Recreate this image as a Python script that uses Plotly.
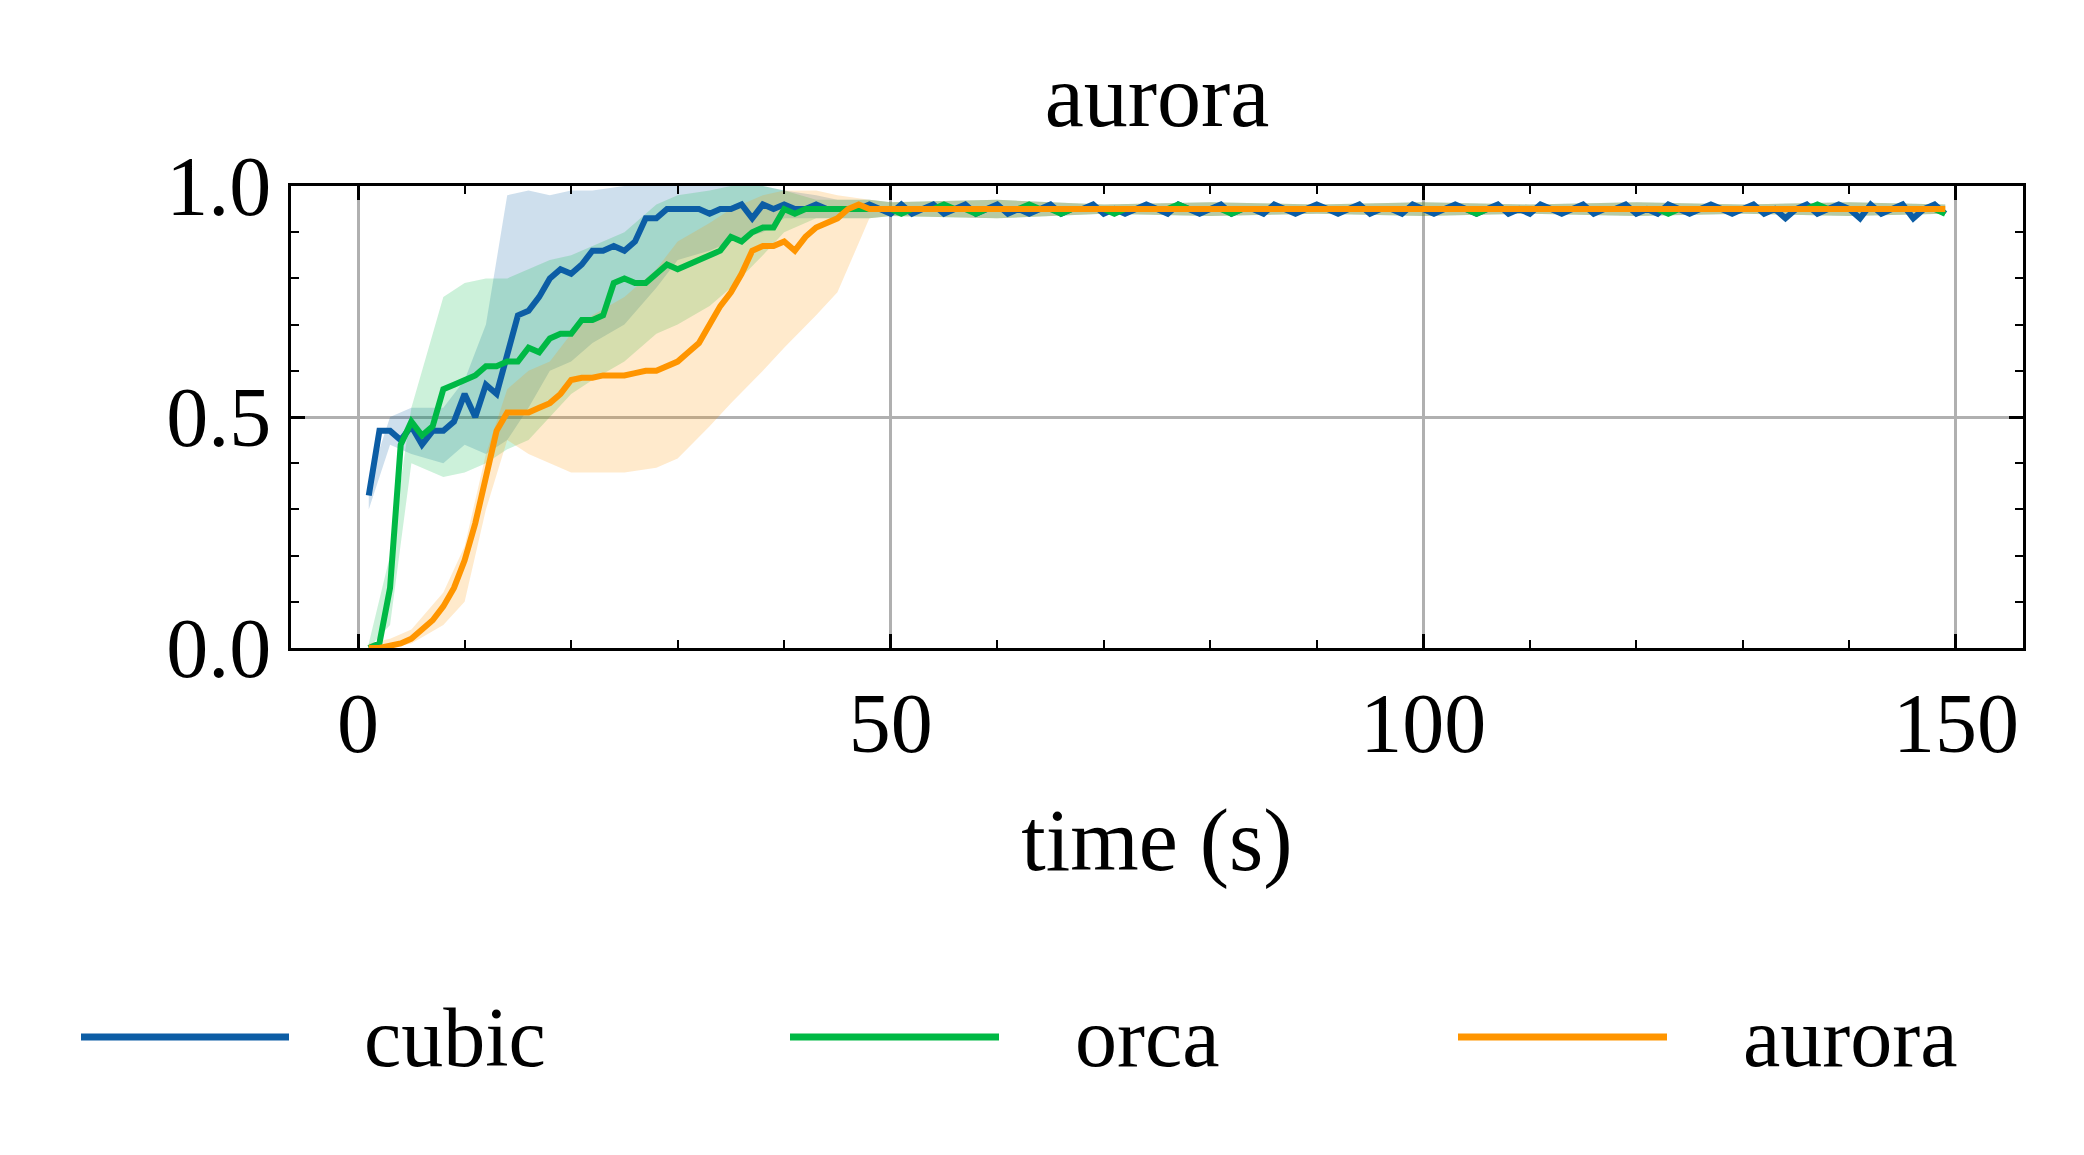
import plotly.graph_objects as go

# time axis (s)
time_s = list(range(1, 150))

cubic_head = [0.33, 0.47, 0.47, 0.45, 0.48, 0.44, 0.47, 0.47, 0.49, 0.55,
              0.50, 0.57, 0.55, 0.63, 0.72, 0.73, 0.76, 0.80, 0.82, 0.81,
              0.83, 0.86, 0.86, 0.87, 0.86, 0.88, 0.93, 0.93, 0.95, 0.95,
              0.95, 0.95, 0.94, 0.95, 0.95, 0.96, 0.93, 0.96, 0.95, 0.96,
              0.95, 0.95, 0.96, 0.95, 0.95, 0.95, 0.95, 0.96]
cubic_tail = [0.95, 0.94, 0.96, 0.94, 0.95, 0.96, 0.94, 0.95, 0.96, 0.94,
              0.95, 0.96, 0.94, 0.95, 0.94, 0.95, 0.96, 0.94, 0.95, 0.95,
              0.96, 0.94, 0.95, 0.94, 0.95, 0.96, 0.95, 0.94, 0.96, 0.95,
              0.94, 0.95, 0.96, 0.94, 0.95, 0.95, 0.94, 0.96, 0.95, 0.94,
              0.95, 0.96, 0.95, 0.94, 0.95, 0.96, 0.94, 0.95, 0.95, 0.94,
              0.96, 0.95, 0.94, 0.95, 0.96, 0.95, 0.94, 0.95, 0.96, 0.94,
              0.95, 0.94, 0.96, 0.95, 0.94, 0.95, 0.96, 0.94, 0.95, 0.95,
              0.96, 0.94, 0.95, 0.94, 0.96, 0.95, 0.94, 0.95, 0.96, 0.95,
              0.94, 0.95, 0.96, 0.94, 0.95, 0.93, 0.95, 0.96, 0.94, 0.95,
              0.96, 0.95, 0.93, 0.96, 0.94, 0.95, 0.96, 0.93, 0.95, 0.96,
              0.94]
orca_head = [0.0, 0.01, 0.13, 0.44, 0.49, 0.46, 0.48, 0.56, 0.57, 0.58,
             0.59, 0.61, 0.61, 0.62, 0.62, 0.65, 0.64, 0.67, 0.68, 0.68,
             0.71, 0.71, 0.72, 0.79, 0.80, 0.79, 0.79, 0.81, 0.83, 0.82,
             0.83, 0.84, 0.85, 0.86, 0.89, 0.88, 0.90, 0.91, 0.91, 0.95,
             0.94, 0.95, 0.95, 0.95, 0.95, 0.95, 0.95, 0.95]
orca_tail = [0.95, 0.95, 0.94, 0.95, 0.95, 0.95, 0.96, 0.95, 0.95, 0.94,
             0.95, 0.95, 0.95, 0.95, 0.96, 0.95, 0.95, 0.94, 0.95, 0.95,
             0.95, 0.95, 0.94, 0.95, 0.95, 0.95, 0.95, 0.95, 0.96, 0.95,
             0.95, 0.95, 0.95, 0.94, 0.95, 0.95, 0.95, 0.95, 0.95, 0.95,
             0.95, 0.95, 0.95, 0.95, 0.95, 0.95, 0.95, 0.95, 0.95, 0.95,
             0.95, 0.95, 0.95, 0.95, 0.95, 0.95, 0.94, 0.95, 0.95, 0.95,
             0.95, 0.95, 0.95, 0.95, 0.95, 0.95, 0.95, 0.95, 0.95, 0.95,
             0.95, 0.95, 0.95, 0.95, 0.94, 0.95, 0.95, 0.95, 0.95, 0.95,
             0.95, 0.95, 0.95, 0.95, 0.95, 0.95, 0.95, 0.95, 0.96, 0.95,
             0.95, 0.95, 0.95, 0.95, 0.95, 0.95, 0.95, 0.95, 0.95, 0.95,
             0.94]
aurora_head = [0.0, 0.0, 0.005, 0.01, 0.02, 0.04, 0.06, 0.09, 0.13, 0.19,
               0.27, 0.37, 0.47, 0.51, 0.51, 0.51, 0.52, 0.53, 0.55, 0.58,
               0.585, 0.585, 0.59, 0.59, 0.59, 0.595, 0.60, 0.60, 0.61, 0.62,
               0.64, 0.66, 0.70, 0.74, 0.77, 0.81, 0.86, 0.87, 0.87, 0.88,
               0.86, 0.89, 0.91, 0.92, 0.93, 0.95, 0.96, 0.95]
aurora_tail = [0.95] * 101

# spread bands, sampled coarser
band_x = [1, 3, 5, 8, 10, 12, 14, 16, 18, 20, 22, 25, 28, 30, 33, 35, 38, 40, 43, 45, 48,
          50, 60, 70, 80, 90, 100, 110, 120, 130, 140, 149]
tail_hi = [0.965, 0.97, 0.96, 0.965, 0.96, 0.965, 0.96, 0.965, 0.96, 0.965, 0.96]
tail_lo = [0.935, 0.93, 0.94, 0.935, 0.94, 0.935, 0.94, 0.935, 0.94, 0.935, 0.94]
cubic_hi = [0.36, 0.50, 0.52, 0.52, 0.58, 0.70, 0.98, 0.99, 0.98, 0.99, 0.99,
            1.0, 1.0, 1.0, 1.0, 1.0, 1.0, 0.99, 0.98, 0.97, 0.97] + tail_hi
cubic_lo = [0.30, 0.44, 0.42, 0.40, 0.44, 0.42, 0.45, 0.52, 0.60, 0.62, 0.66,
            0.70, 0.78, 0.84, 0.86, 0.88, 0.90, 0.93, 0.93, 0.93, 0.93] + tail_lo
orca_hi = [0.01, 0.20, 0.52, 0.76, 0.79, 0.80, 0.80, 0.82, 0.84, 0.85, 0.87,
           0.90, 0.96, 0.98, 0.99, 1.0, 1.0, 0.99, 0.97, 0.97, 0.97] + tail_hi
orca_lo = [0.0, 0.05, 0.40, 0.37, 0.38, 0.40, 0.43, 0.45, 0.50, 0.55, 0.58,
           0.62, 0.68, 0.70, 0.74, 0.78, 0.85, 0.90, 0.93, 0.93, 0.93] + tail_lo
aurora_hi = [0.01, 0.02, 0.04, 0.12, 0.22, 0.42, 0.56, 0.60, 0.62, 0.68, 0.72,
             0.76, 0.82, 0.88, 0.92, 0.95, 0.98, 0.99, 0.99, 0.98, 0.97] + tail_hi
aurora_lo = [0.0, 0.0, 0.01, 0.05, 0.10, 0.30, 0.45, 0.42, 0.40, 0.38, 0.38,
             0.38, 0.39, 0.41, 0.48, 0.53, 0.60, 0.65, 0.72, 0.77, 0.93] + tail_lo

series = [
    ("cubic", cubic_head + cubic_tail, cubic_lo, cubic_hi, "#0C5DA5", "rgba(12,93,165,0.2)"),
    ("orca", orca_head + orca_tail, orca_lo, orca_hi, "#00B945", "rgba(0,185,69,0.2)"),
    ("aurora", aurora_head + aurora_tail, aurora_lo, aurora_hi, "#FF9500", "rgba(255,149,0,0.2)"),
]

FONT = "Liberation Serif"
W, H = 2084, 1155
L, R, T, B = 283, 69, 178, 515
PW, PH = W - L - R, H - T - B

fig = go.Figure()
for name, y, lo, hi, col, fill in series:
    fig.add_trace(go.Scatter(x=band_x, y=lo, mode="lines", line=dict(width=0),
                             showlegend=False, hoverinfo="skip"))
    fig.add_trace(go.Scatter(x=band_x, y=hi, mode="lines", line=dict(width=0),
                             fill="tonexty", fillcolor=fill, showlegend=False, hoverinfo="skip"))
for name, y, lo, hi, col, fill in series:
    fig.add_trace(go.Scatter(x=time_s, y=y, mode="lines", name=name, showlegend=False,
                             line=dict(color=col, width=6)))

# hand-placed legend below the axes (pixel positions -> paper coords)
legend_line_px = [(73, 281), (782, 991), (1450, 1659)]
legend_text_px = [354, 1065, 1733]
legend_y_px = 1029
ly = (H - B - legend_y_px) / PH
for (x0, x1), tx, (name, _, _, _, col, _) in zip(legend_line_px, legend_text_px, series):
    fig.add_shape(type="line", xref="paper", yref="paper",
                  x0=(x0 - L) / PW, x1=(x1 - L) / PW, y0=ly, y1=ly,
                  line=dict(color=col, width=7))
    fig.add_annotation(text=name, xref="paper", yref="paper", x=(tx - L) / PW, y=ly,
                       xanchor="left", yanchor="middle", showarrow=False,
                       font=dict(size=84, family=FONT, color="black"))

axis_common = dict(showline=True, linecolor="black", linewidth=3, mirror="allticks",
                   ticks="inside", ticklen=14, tickwidth=2.5, tickcolor="black",
                   showgrid=True, gridcolor="#b0b0b0", gridwidth=2.5, zeroline=False,
                   tickfont=dict(size=84, family=FONT, color="black"))

fig.update_layout(
    width=W, height=H,
    paper_bgcolor="white", plot_bgcolor="white",
    margin=dict(l=L, r=R, t=T, b=B),
    showlegend=False,
    title=dict(text="aurora", x=0.5, xref="paper", y=1 - 87 / H, yanchor="middle",
               font=dict(size=88, family=FONT, color="black")),
    xaxis=dict(range=[-6.3, 156.3], tickvals=[0, 50, 100, 150],
               minor=dict(ticks="inside", ticklen=8, tickwidth=2, tickcolor="black", dtick=10, showgrid=False),
               title=dict(text="time (s)", font=dict(size=88, family=FONT, color="black"), standoff=40),
               **axis_common),
    yaxis=dict(range=[0, 1.0], tickvals=[0, 0.5, 1.0], tickformat=".1f",
               minor=dict(ticks="inside", ticklen=8, tickwidth=2, tickcolor="black", dtick=0.1, showgrid=False),
               **axis_common),
)

fig.write_html("out.html")
